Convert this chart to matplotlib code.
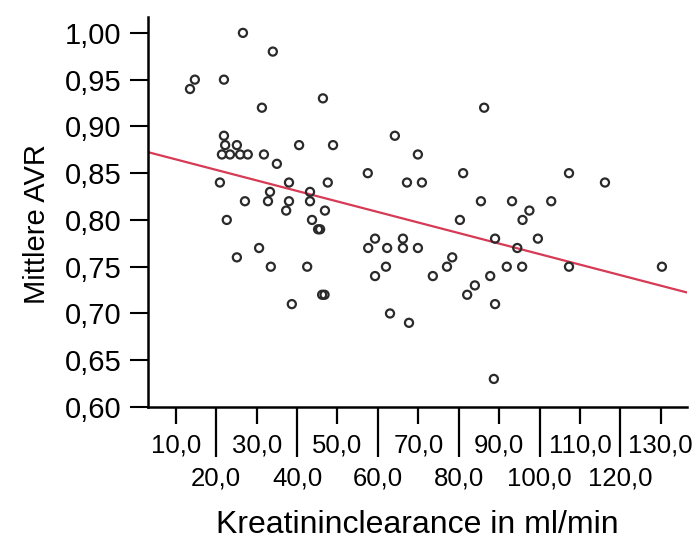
import matplotlib
matplotlib.use("Agg")
import matplotlib.pyplot as plt
import numpy as np

plt.rcParams["font.family"] = ["Liberation Sans", "DejaVu Sans"]

# Kreatininclearance (ml/min) and Mittlere AVR
clearance = [
    14.7, 13.5, 21.9, 26.6, 34.0, 31.3, 46.4, 21.9, 40.5, 48.9,
    22.2, 25.1, 21.4, 23.4, 25.9, 27.8, 31.8, 35.0, 20.9, 38.0,
    47.6, 33.3, 43.2, 27.1, 32.8, 38.0, 37.3, 43.2, 46.9, 22.6,
    43.7, 45.2, 45.7, 25.1, 30.6, 33.5, 42.5, 38.7, 46.2, 46.8,
    86.3, 64.2, 69.9, 57.5, 81.1, 67.2, 70.9, 85.5, 93.2, 95.8,
    97.5, 80.3, 89.0, 94.5, 59.3, 57.6, 62.3, 66.2, 66.2, 69.9,
    62.0, 59.3, 78.4, 77.1, 73.6, 87.8, 91.9, 95.7, 84.0, 82.1,
    107.3, 116.2, 102.9, 99.6, 107.3, 130.3, 63.0, 67.7, 89.0, 88.7,
]
avr = [
    0.95, 0.94, 0.95, 1.00, 0.98, 0.92, 0.93, 0.89, 0.88, 0.88,
    0.88, 0.88, 0.87, 0.87, 0.87, 0.87, 0.87, 0.86, 0.84, 0.84,
    0.84, 0.83, 0.83, 0.82, 0.82, 0.82, 0.81, 0.82, 0.81, 0.80,
    0.80, 0.79, 0.79, 0.76, 0.77, 0.75, 0.75, 0.71, 0.72, 0.72,
    0.92, 0.89, 0.87, 0.85, 0.85, 0.84, 0.84, 0.82, 0.82, 0.80,
    0.81, 0.80, 0.78, 0.77, 0.78, 0.77, 0.77, 0.78, 0.77, 0.77,
    0.75, 0.74, 0.76, 0.75, 0.74, 0.74, 0.75, 0.75, 0.73, 0.72,
    0.85, 0.84, 0.82, 0.78, 0.75, 0.75, 0.70, 0.69, 0.71, 0.63,
]

# regression line
fit_intercept = 0.876
fit_slope = -0.001125

x_upper_ticks = [10, 30, 50, 70, 90, 110, 130]
x_upper_labels = ["10,0", "30,0", "50,0", "70,0", "90,0", "110,0", "130,0"]
x_lower_ticks = [20, 40, 60, 80, 100, 120]
x_lower_labels = ["20,0", "40,0", "60,0", "80,0", "100,0", "120,0"]
y_ticks = [0.60, 0.65, 0.70, 0.75, 0.80, 0.85, 0.90, 0.95, 1.00]
y_labels = ["0,60", "0,65", "0,70", "0,75", "0,80", "0,85", "0,90", "0,95", "1,00"]

fig = plt.figure(figsize=(7.0, 5.41), dpi=100)
ax = fig.add_axes([0.2114, 0.2477, 0.77, 0.7209])

ax.set_xlim(3.1, 136.5)
ax.set_ylim(0.60, 1.017)

ax.scatter(clearance, avr, s=34, facecolors="none", edgecolors="#2a2a2a",
           linewidths=1.6, zorder=3)

xs = np.array(ax.get_xlim())
ax.plot(xs, fit_intercept + fit_slope * xs, color="#d63a55", lw=1.6, zorder=2)

for side in ["top", "right"]:
    ax.spines[side].set_visible(False)
for side in ["left", "bottom"]:
    ax.spines[side].set_linewidth(1.8)
    ax.spines[side].set_color("black")

ax.set_yticks(y_ticks)
ax.set_yticklabels(y_labels)
ax.tick_params(axis="y", length=13, width=1.5, pad=6, labelsize=21)

ax.set_xticks(x_lower_ticks)
ax.set_xticklabels(x_lower_labels)
ax.set_xticks(x_upper_ticks, minor=True)
ax.set_xticklabels(x_upper_labels, minor=True)
ax.tick_params(axis="x", which="major", length=36, width=1.6, pad=7, labelsize=18.5)
ax.tick_params(axis="x", which="minor", length=12, width=1.6, pad=7, labelsize=18.5)

ax.set_ylabel("Mittlere AVR", fontsize=21)
ax.yaxis.set_label_coords(-0.18, 0.47)
ax.set_xlabel("Kreatininclearance in ml/min", fontsize=23)
ax.xaxis.set_label_coords(0.5, -0.265)

fig.savefig("out.png", dpi=100)
